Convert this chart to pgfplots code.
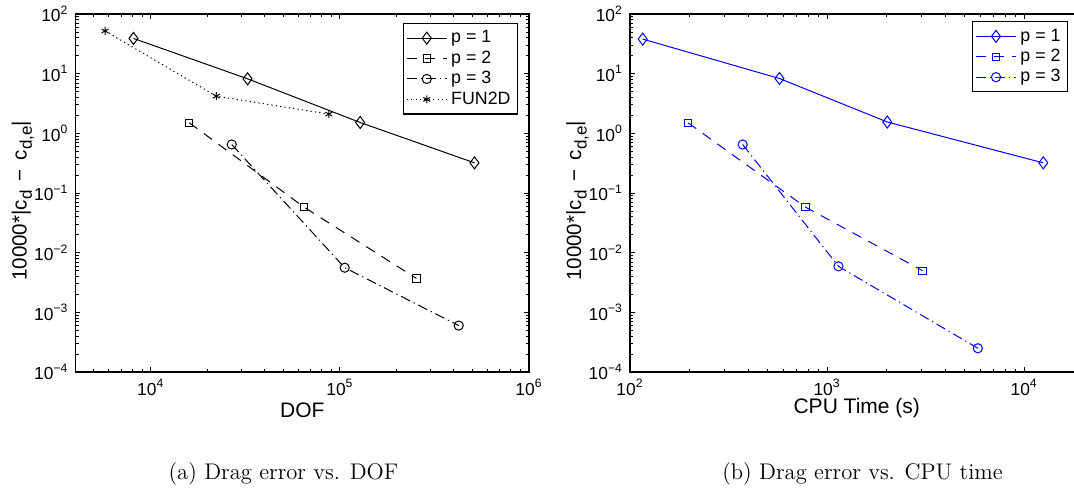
\documentclass[border=0pt]{standalone}
\usepackage{fontspec}
\setsansfont{Liberation Sans}
\usepackage{pgfplots}
\pgfplotsset{compat=1.18}

\newcommand{\sub}[1]{\raisebox{-0.5ex}{\fontsize{8.5}{10}\selectfont #1}}
\newcommand{\errlabel}{\fontsize{10.3}{12}\selectfont 10000*|c\sub{d}\,\ −\ \,c\sub{d,e}|}

% sans tick labels 10^n with a real minus sign
\pgfplotsset{
  log number format basis/.code 2 args={#1\textsuperscript{\pgfmathtruncatemacro\ex{#2}\ifnum\ex<0 −\the\numexpr-\ex\relax\else\ex\fi}},
  every axis/.append style={
    scale only axis, width=226.75pt, height=179pt,
    ymin=1e-4, ymax=1e2,
    axis line style={line width=0.6pt},
    tick style={black, line width=0.4pt},
    major tick length=2.5pt, minor tick length=1.5pt,
    font=\sffamily\fontsize{10.5}{12}\selectfont,
    tick label style={font=\sffamily\fontsize{8.7}{10}\selectfont},
    legend cell align=left,
    legend image code/.code={\draw[mark repeat=2,mark phase=2] plot coordinates {(0cm,0cm) (0.35cm,0cm) (0.7cm,0cm)};},
    legend style={draw=black, line width=0.6pt, inner sep=1.5pt, row sep=-1.5pt,
      font=\sffamily\fontsize{8.9}{10}\selectfont, anchor=north east},
  },
}
\tikzset{
  p1/.style={line width=0.5pt, mark=diamond, mark size=3pt, mark options={solid}},
  p2/.style={line width=0.5pt, dash pattern=on 5pt off 4pt, mark=square, mark size=1.8pt, mark options={solid}},
  p3/.style={line width=0.5pt, dash pattern=on 5pt off 2pt on 0.6pt off 2pt, mark=o, mark size=2.3pt, mark options={solid}},
  fun/.style={line width=0.5pt, dash pattern=on 0.6pt off 1.6pt, mark=asterisk, mark size=2pt, mark options={solid}},
}

\begin{document}
\begin{tikzpicture}
\useasboundingbox (0,0) rectangle (537pt,244.5pt);
\clip (0,0) rectangle (537pt,244.5pt);

\begin{loglogaxis}[at={(37.75pt,58.5pt)}, anchor=south west,
  xmin=4000, xmax=1e6,
  xlabel={DOF},
  xlabel style={at={(axis description cs:0.5,-0.1257)}, anchor=base},
  ylabel={\errlabel},
  ylabel style={at={(axis description cs:-0.116,0.478)}, anchor=center},
  legend style={at={(0.976,0.975)}},
]
\addplot[black, p1] coordinates {(8100,39) (32500,8.2) (128000,1.52) (515000,0.32)};
\addlegendentry{p = 1}
\addplot[black, p2] coordinates {(16000,1.5) (64600,0.058) (254000,0.0037)};
\addlegendentry{p = 2}
\addplot[black, p3] coordinates {(26800,0.65) (106000,0.0056) (425000,0.0006)};
\addlegendentry{p = 3}
\addplot[black, fun] coordinates {(5730,52) (22200,4.2) (87500,2.1)};
\addlegendentry{FUN2D}
\end{loglogaxis}

\begin{loglogaxis}[at={(315pt,58.5pt)}, anchor=south west,
  xmin=100, xmax=2e4,
  xlabel={CPU Time (s)},
  xlabel style={at={(axis description cs:0.5,-0.1145)}, anchor=base},
  ylabel={\errlabel},
  ylabel style={at={(axis description cs:-0.116,0.478)}, anchor=center},
  legend style={at={(0.966,0.98)}},
]
\addplot[blue, p1] coordinates {(116,38) (573,8.3) (2020,1.55) (12500,0.32)};
\addlegendentry{p = 1}
\addplot[blue, p2] coordinates {(197,1.5) (777,0.058) (3050,0.005)};
\addlegendentry{p = 2}
\addplot[blue, p3] coordinates {(373,0.65) (1142,0.0059) (5820,0.00025)};
\addlegendentry{p = 3}
\end{loglogaxis}

\node[font=\rmfamily\fontsize{11.3}{13}\selectfont, anchor=base] at (141.75pt,5pt) {(a) Drag error vs. DOF};
\node[font=\rmfamily\fontsize{11.3}{13}\selectfont, anchor=base] at (431.25pt,5pt) {(b) Drag error vs. CPU time};
\end{tikzpicture}
\end{document}
